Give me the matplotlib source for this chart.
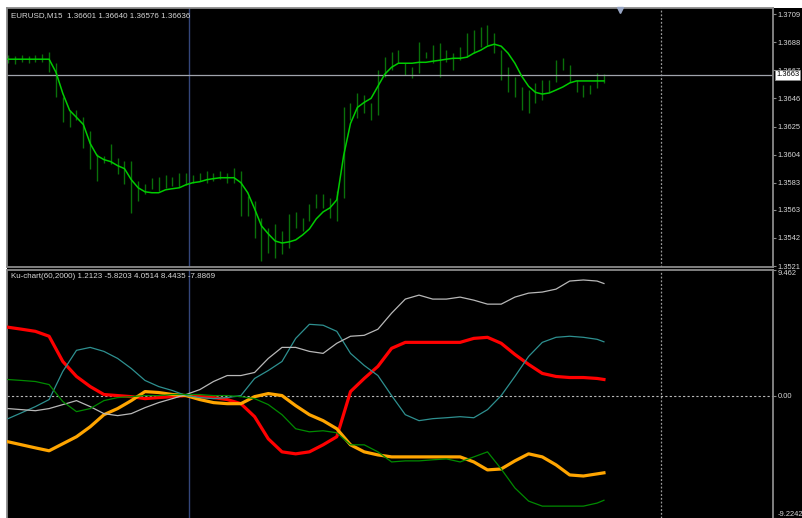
import matplotlib
matplotlib.use('Agg')
import matplotlib.pyplot as plt
import matplotlib.transforms as mtransforms
from matplotlib.patches import Rectangle
import numpy as np

plt.rcParams['font.family'] = ['Liberation Sans', 'DejaVu Sans']

symbol_title = 'EURUSD,M15  1.36601 1.36640 1.36576 1.36636'
ind_title = 'Ku-chart(60,2000) 1.2123 -5.8203 4.0514 8.4435 -7.8869'

# price panel: moving average and bar high/low, one value per M15 bar
ma = [1.36753, 1.36753, 1.36753, 1.36753, 1.36753, 1.36753, 1.36753, 1.36656, 1.36498, 1.36371,
      1.36319, 1.36266, 1.36124, 1.36034, 1.36004, 1.35989, 1.35959, 1.35937, 1.35854, 1.35794,
      1.35764, 1.35757, 1.35757, 1.35779, 1.35787, 1.35794, 1.35817, 1.35832, 1.35839, 1.35854,
      1.35862, 1.35869, 1.35869, 1.35869, 1.35832, 1.35757, 1.35637, 1.35510, 1.35450, 1.35397,
      1.35382, 1.35390, 1.35405, 1.35442, 1.35487, 1.35562, 1.35614, 1.35644, 1.35704, 1.36034,
      1.36274, 1.36393, 1.36431, 1.36461, 1.36551, 1.36641, 1.36693, 1.36723, 1.36723, 1.36723,
      1.36730, 1.36730, 1.36738, 1.36745, 1.36753, 1.36760, 1.36760, 1.36768, 1.36798, 1.36820,
      1.36850, 1.36865, 1.36850, 1.36798, 1.36723, 1.36626, 1.36551, 1.36506, 1.36493, 1.36501,
      1.36523, 1.36546, 1.36576, 1.36591, 1.36591, 1.36591, 1.36591, 1.36591]

high = [1.36783, 1.36775, 1.36783, 1.36775, 1.36783, 1.36790, 1.36805, 1.36723, 1.36468, 1.36371,
        1.36371, 1.36319, 1.36221, 1.36049, 1.36034, 1.36124, 1.36019, 1.35996, 1.35996, 1.35847,
        1.35824, 1.35869, 1.35877, 1.35892, 1.35877, 1.35907, 1.35907, 1.35892, 1.35907, 1.35922,
        1.35907, 1.35922, 1.35907, 1.35944, 1.35922, 1.35734, 1.35697, 1.35570, 1.35495, 1.35525,
        1.35472, 1.35599, 1.35615, 1.35570, 1.35674, 1.35749, 1.35749, 1.35719, 1.35772, 1.36393,
        1.36423, 1.36498, 1.36483, 1.36423, 1.36671, 1.36768, 1.36805, 1.36820, 1.36723, 1.36693,
        1.36880, 1.36805, 1.36858, 1.36873, 1.36820, 1.36798, 1.36843, 1.36948, 1.36970, 1.36993,
        1.37008, 1.36948, 1.36820, 1.36693, 1.36618, 1.36543, 1.36521, 1.36573, 1.36596, 1.36596,
        1.36745, 1.36760, 1.36708, 1.36596, 1.36558, 1.36558, 1.36648, 1.36640]

low = [1.36723, 1.36715, 1.36730, 1.36723, 1.36730, 1.36730, 1.36656, 1.36468, 1.36281, 1.36244,
       1.36296, 1.36094, 1.35937, 1.35847, 1.35982, 1.35974, 1.35899, 1.35824, 1.35607, 1.35697,
       1.35749, 1.35787, 1.35772, 1.35794, 1.35809, 1.35802, 1.35817, 1.35832, 1.35847, 1.35832,
       1.35847, 1.35862, 1.35832, 1.35832, 1.35584, 1.35584, 1.35420, 1.35247, 1.35307, 1.35270,
       1.35300, 1.35345, 1.35495, 1.35472, 1.35547, 1.35644, 1.35644, 1.35570, 1.35547, 1.35719,
       1.36296, 1.36311, 1.36349, 1.36296, 1.36334, 1.36618, 1.36671, 1.36723, 1.36633, 1.36611,
       1.36648, 1.36760, 1.36723, 1.36618, 1.36730, 1.36671, 1.36745, 1.36768, 1.36798, 1.36843,
       1.36858, 1.36798, 1.36596, 1.36506, 1.36468, 1.36371, 1.36349, 1.36423, 1.36446, 1.36506,
       1.36581, 1.36671, 1.36581, 1.36506, 1.36468, 1.36491, 1.36536, 1.36576]

last_close = 1.36636
last_close_label = '1.3663'
price_ticks = [1.3709, 1.3688, 1.3667, 1.3646, 1.3625, 1.3604, 1.3583, 1.3563, 1.3542, 1.3521]
price_lim = (1.35203, 1.37135)

# indicator panel, read every second bar
ind_bars = list(range(0, 88, 2)) + [87]
red = [5.15, 5.00, 4.84, 4.47, 2.57, 1.44, 0.68, 0.08, 0.0, -0.08,
       -0.23, -0.15, -0.08, 0.0, -0.08, -0.15, -0.30, -0.61, -1.59, -3.26,
       -4.24, -4.39, -4.24, -3.71, -3.10, 0.30, 1.29, 2.20, 3.56, 4.01,
       4.01, 4.01, 4.01, 4.01, 4.31, 4.39, 3.94, 3.10, 2.35, 1.67,
       1.44, 1.36, 1.36, 1.29, 1.2123]
orange = [-3.48, -3.71, -3.94, -4.16, -3.63, -3.10, -2.35, -1.44, -0.98, -0.38,
          0.30, 0.23, 0.08, 0.0, -0.30, -0.53, -0.61, -0.61, -0.08, 0.15,
          0.0, -0.76, -1.44, -1.89, -2.50, -3.71, -4.24, -4.47, -4.62, -4.62,
          -4.62, -4.62, -4.62, -4.62, -5.00, -5.60, -5.53, -4.92, -4.39, -4.62,
          -5.22, -5.98, -6.06, -5.90, -5.8203]
teal = [-1.74, -1.29, -0.83, -0.30, 1.82, 3.41, 3.63, 3.33, 2.80, 2.04,
        1.14, 0.68, 0.38, 0.0, -0.15, -0.23, -0.15, 0.0, 1.29, 1.89,
        2.57, 4.31, 5.37, 5.30, 4.84, 3.18, 2.27, 1.51, 0.0, -1.44,
        -1.89, -1.74, -1.67, -1.59, -1.67, -1.06, 0.0, 1.44, 2.95, 4.01,
        4.39, 4.47, 4.39, 4.24, 4.0514]
silver = [-0.98, -1.06, -1.14, -0.98, -0.68, -0.38, -0.83, -1.36, -1.51, -1.36,
          -0.91, -0.53, -0.23, 0.08, 0.45, 1.06, 1.51, 1.51, 1.74, 2.80,
          3.63, 3.63, 3.33, 3.18, 3.94, 4.47, 4.54, 5.00, 6.21, 7.27,
          7.57, 7.27, 7.27, 7.42, 7.19, 6.89, 6.89, 7.42, 7.72, 7.80,
          8.02, 8.63, 8.71, 8.63, 8.4435]
green = [1.21, 1.14, 1.06, 0.83, -0.45, -1.21, -0.98, -0.38, -0.15, -0.08,
         0.0, 0.0, 0.08, 0.08, 0.08, 0.0, 0.0, -0.08, -0.23, -0.68,
         -1.44, -2.50, -2.73, -2.65, -2.80, -3.71, -3.71, -4.24, -5.00, -4.92,
         -4.92, -4.84, -4.77, -5.00, -4.62, -4.24, -5.53, -6.96, -7.95, -8.33,
         -8.33, -8.33, -8.33, -8.10, -7.8869]
ind_ticks = [9.462, 0.0, -9.2242]
ind_tick_labels = ['9.462', '0.00', '-9.2242']

crosshair_bar = 26.4
shift_bar = 95.3
marker_bar = 89.3
bar_range = (-0.146, 111.68)

W, H = 803, 518
fig = plt.figure(figsize=(W / 100, H / 100), dpi=100, facecolor='white')
fig.patches.append(Rectangle((7 / W, 0), 1 - 7 / W, 1 - 8 / H, transform=fig.transFigure,
                             facecolor='black', edgecolor='none', zorder=-5))

ax1 = fig.add_axes([7 / W, 1 - 267 / H, 766 / W, 259 / H])
ax2 = fig.add_axes([7 / W, 0, 766 / W, 248 / H])

for ax in (ax1, ax2):
    ax.set_facecolor('black')
    ax.set_xlim(bar_range)
    ax.set_xticks([])
    for s in ax.spines.values():
        s.set_color('#8a8a8a')
        s.set_linewidth(1.3)
    ax.yaxis.tick_right()
    ax.tick_params(axis='y', colors='#8a8a8a', labelcolor='#d8d8d8', labelsize=5.4,
                   length=2.5, width=0.8, pad=1.0)
    ax.axvline(crosshair_bar, color='#34467a', lw=1.0, zorder=1)
    ax.axvline(shift_bar, color='#9a9a9a', lw=0.9, ls=(0, (1.5, 1.5)), zorder=1)
ax2.spines['bottom'].set_visible(False)

# price panel
bars = np.arange(len(ma))
ax1.set_ylim(price_lim)
ax1.set_yticks(price_ticks, [f'{t:.4f}' for t in price_ticks])
ax1.vlines(bars, low, high, colors='#0a700a', lw=1.0, zorder=2)
ax1.plot(bars, ma, color='#00cc00', lw=1.1, zorder=3)
ax1.axhline(last_close, color='#a0a4ac', lw=0.9, zorder=2)
ax1.plot(marker_bar, 1.3712, marker='v', color='#98a6c4', ms=4.5, clip_on=False, zorder=4)
trans = mtransforms.blended_transform_factory(ax1.transAxes, ax1.transData)
ax1.text(1.004, last_close, last_close_label, transform=trans, ha='left', va='center',
         fontsize=5.4, color='black', clip_on=False, zorder=10,
         bbox=dict(boxstyle='square,pad=0.15', facecolor='white', edgecolor='#8a8a8a', lw=0.6))

# indicator panel
ax2.set_ylim(-9.2242, 9.462)
ax2.set_yticks(ind_ticks, ind_tick_labels)
labs = ax2.get_yticklabels()
labs[0].set_va('top')
labs[2].set_va('bottom')
ax2.axhline(0, color='#b8b8b8', lw=0.8, ls=(0, (2, 2)), zorder=1)
ax2.plot(ind_bars, red, color='#ff0000', lw=2.3, zorder=3)
ax2.plot(ind_bars, orange, color='#ffa500', lw=2.3, zorder=3)
ax2.plot(ind_bars, teal, color='#2e9090', lw=0.9, zorder=4)
ax2.plot(ind_bars, silver, color='#b8b8b8', lw=0.9, zorder=4)
ax2.plot(ind_bars, green, color='#008a00', lw=0.9, zorder=4)

fig.text(11 / W, 1 - 16 / H, symbol_title, fontsize=5.8, color='#d8d8d8', va='center', ha='left')
fig.text(11 / W, 1 - 277 / H, ind_title, fontsize=5.8, color='#d8d8d8', va='center', ha='left')

fig.savefig('out.png', dpi=100, facecolor='white')
